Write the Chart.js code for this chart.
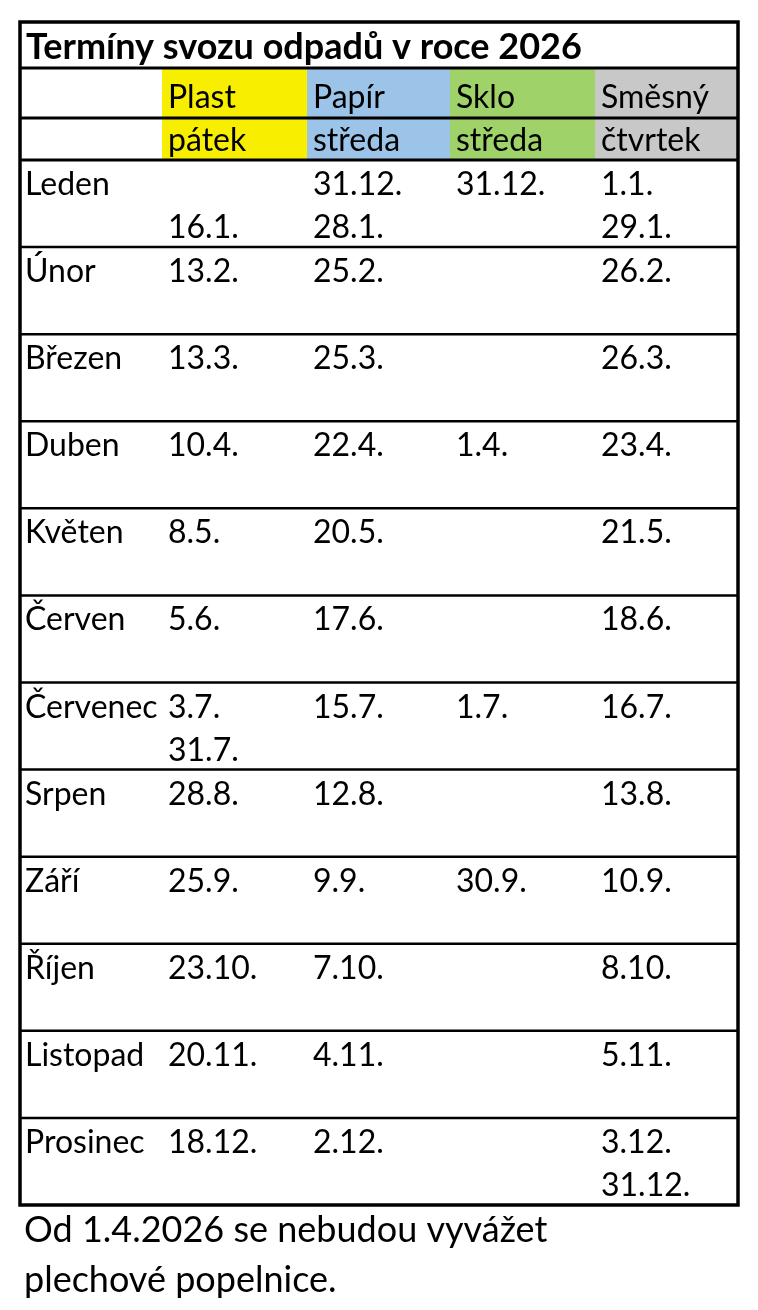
<!DOCTYPE html>
<html><head><meta charset="utf-8">
<script src="https://cdn.jsdelivr.net/npm/chart.js@4"></script>
<style>html,body{margin:0;padding:0;background:#fff}canvas{display:block}</style>
</head><body>
<canvas id="c" width="758" height="1310"></canvas>
<script>
const title = "Termíny svozu odpadů v roce 2026";
const wasteTypes = ["Plast","Papír","Sklo","Směsný"];
const weekdays = ["pátek","středa","středa","čtvrtek"];
const typeColors = ["#f7ee00","#9cc4e8","#9fd36a","#c8c8c8"];
const months = ["Leden","Únor","Březen","Duben","Květen","Červen","Červenec","Srpen","Září","Říjen","Listopad","Prosinec"];
const plast  = ["\n16.1.","13.2.","13.3.","10.4.","8.5.","5.6.","3.7.\n31.7.","28.8.","25.9.","23.10.","20.11.","18.12."];
const papir  = ["31.12.\n28.1.","25.2.","25.3.","22.4.","20.5.","17.6.","15.7.","12.8.","9.9.","7.10.","4.11.","2.12."];
const sklo   = ["31.12.","","","1.4.","","","1.7.","","30.9.","","",""];
const smesny = ["1.1.\n29.1.","26.2.","26.3.","23.4.","21.5.","18.6.","16.7.","13.8.","10.9.","8.10.","5.11.","3.12.\n31.12."];
const footer = ["Od 1.4.2026 se nebudou vyvážet","plechové popelnice."];

const colEdges = [20,162,307,450,595,738];
const tableTop = 22, titleBottom = 68, head1Bottom = 118, head2Bottom = 160, tableBottom = 1205;
const F = "Lato, 'Open Sans', sans-serif";

const tablePlugin = {
  id:'table',
  afterDraw(chart){
    const ctx = chart.ctx, xs = chart.scales.x, ys = chart.scales.y;
    const X = v=>xs.getPixelForValue(v), Y = v=>ys.getPixelForValue(v);
    ctx.save();
    for(let i=0;i<4;i++){
      ctx.fillStyle = typeColors[i];
      ctx.fillRect(X(colEdges[i+1]), Y(titleBottom), X(colEdges[i+2])-X(colEdges[i+1]), Y(head2Bottom)-Y(titleBottom));
    }
    ctx.strokeStyle = "#000";
    const hline=(y,w)=>{ctx.lineWidth=w;ctx.beginPath();ctx.moveTo(X(colEdges[0]),Y(y));ctx.lineTo(X(colEdges[5]),Y(y));ctx.stroke();};
    hline(titleBottom,3); hline(head1Bottom,3); hline(head2Bottom,3);
    const rowH = (tableBottom-head2Bottom)/months.length;
    for(let r=1;r<months.length;r++) hline(head2Bottom+r*rowH,2.5);
    ctx.lineWidth=3.5;
    ctx.strokeRect(X(colEdges[0]),Y(tableTop),X(colEdges[5])-X(colEdges[0]),Y(tableBottom)-Y(tableTop));
    ctx.fillStyle="#000"; ctx.textBaseline="alphabetic";
    ctx.font = "bold 36px "+F;
    ctx.fillText(title, X(26), Y(59));
    ctx.font = "32px "+F;
    for(let i=0;i<4;i++){
      ctx.fillText(wasteTypes[i], X(colEdges[i+1]+6), Y(108));
      ctx.fillText(weekdays[i], X(colEdges[i+1]+6), Y(151));
    }
    const cols=[plast,papir,sklo,smesny];
    months.forEach((m,r)=>{
      const top = head2Bottom + r*rowH;
      ctx.fillText(m, X(25), Y(top+35));
      cols.forEach((arr,c)=>{
        arr[r].split("\n").forEach((line,l)=>{
          if(line) ctx.fillText(line, X(colEdges[c+1]+6), Y(top+35+l*43));
        });
      });
    });
    ctx.font = "36px "+F;
    footer.forEach((t,i)=>ctx.fillText(t, X(24), Y(1242+i*50)));
    ctx.restore();
  }
};

new Chart(document.getElementById('c'),{
  type:'scatter',
  data:{datasets:[{data:[],pointRadius:0}]},
  options:{
    responsive:false, animation:false,
    layout:{padding:0},
    plugins:{legend:{display:false},tooltip:{enabled:false}},
    scales:{
      x:{type:'linear',min:0,max:758,display:false},
      y:{type:'linear',min:0,max:1310,reverse:true,display:false}
    }
  },
  plugins:[tablePlugin]
});
</script>
</body></html>
